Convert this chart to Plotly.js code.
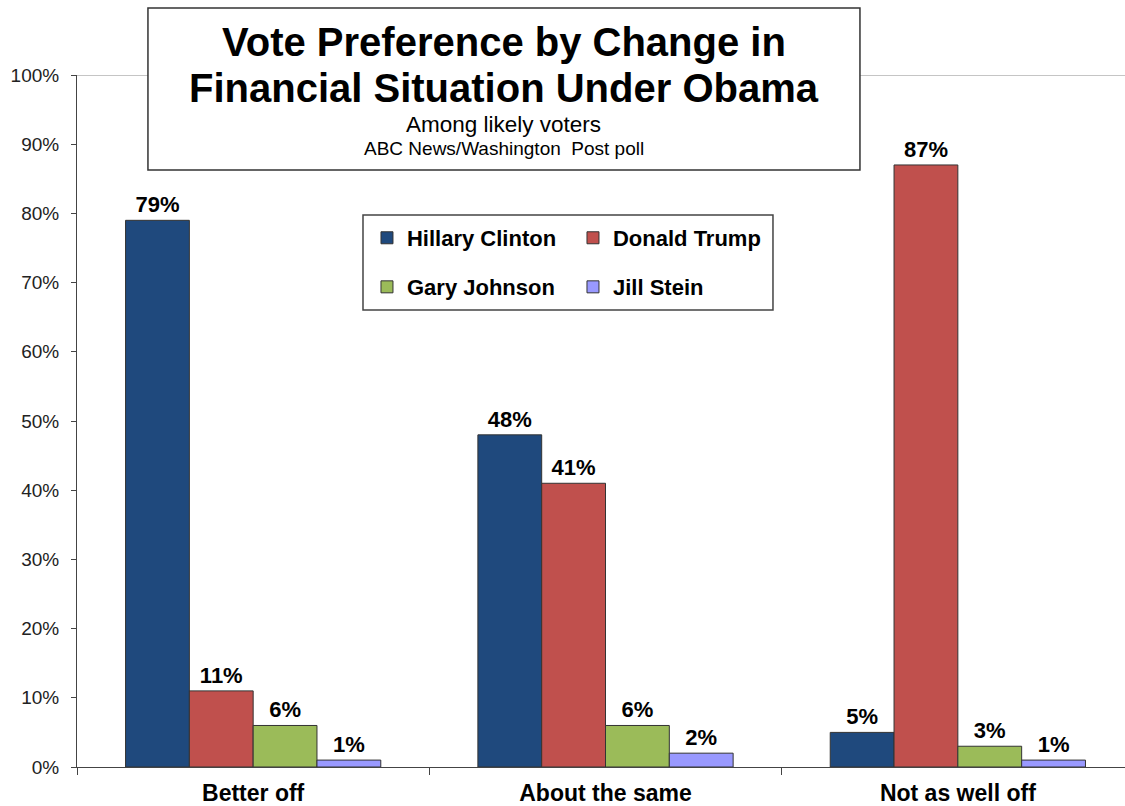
<!DOCTYPE html>
<html>
<head>
<meta charset="utf-8">
<script src="https://cdn.plot.ly/plotly-3.0.1.min.js"></script>
<style>html,body{margin:0;padding:0;background:#fff;}#chart{width:1125px;height:806px;}</style>
</head>
<body>
<div id="chart"></div>
<script>
const categories = ["Better off", "About the same", "Not as well off"];
const seriesNames = ["Hillary Clinton", "Donald Trump", "Gary Johnson", "Jill Stein"];
const clinton = [79, 48, 5];
const trump = [11, 41, 87];
const johnson = [6, 6, 3];
const stein = [1, 2, 1];
const yTicks = [0, 10, 20, 30, 40, 50, 60, 70, 80, 90, 100];
const titleLine1 = "Vote Preference by Change in";
const titleLine2 = "Financial Situation Under Obama";
const subtitle1 = "Among likely voters";
const subtitle2 = "ABC News/Washington  Post poll";

const colors = ["#1F497D", "#C0504D", "#9BBB59", "#9999FF"];
const seriesValues = [clinton, trump, johnson, stein];
const legendIds = ["legend", "legend", "legend2", "legend2"];
const FONT = "Arial, 'Liberation Sans', sans-serif";

const traces = seriesValues.map((vals, i) => ({
  type: "bar",
  name: seriesNames[i],
  x: categories,
  y: vals,
  legend: legendIds[i],
  marker: { color: colors[i], line: { color: "#333333", width: 1 } },
  text: vals.map(v => v + "%"),
  textposition: "outside",
  constraintext: "none",
  cliponaxis: false,
  textfont: { family: FONT, size: 22, color: "#000", weight: "bold" },
  hoverinfo: "x+y+name"
}));

const legendCommon = {
  orientation: "h",
  xanchor: "left",
  yanchor: "middle",
  x: 0.2767,
  bgcolor: "rgba(0,0,0,0)",
  borderwidth: 0,
  font: { family: FONT, size: 22, color: "#000", weight: "bold" },
  entrywidth: 161,
  entrywidthmode: "pixels",
  traceorder: "normal"
};

const layout = {
  width: 1125,
  height: 806,
  margin: { l: 77, r: 0, t: 75, b: 39, pad: 0 },
  paper_bgcolor: "#fff",
  plot_bgcolor: "#fff",
  barmode: "group",
  bargap: 0.2756,
  bargroupgap: 0,
  showlegend: true,
  legend: Object.assign({}, legendCommon, { y: 0.7645 }),
  legend2: Object.assign({}, legendCommon, { y: 0.6936 }),
  xaxis: {
    type: "category",
    range: [-0.5, 2.4744],
    showline: true,
    linecolor: "#444",
    linewidth: 1,
    ticks: "outside",
    tickson: "boundaries",
    ticklen: 7,
    tickcolor: "#444",
    showgrid: false,
    zeroline: false,
    ticklabelstandoff: 5,
    tickfont: { family: FONT, size: 23, color: "#000", weight: "bold" }
  },
  yaxis: {
    range: [0, 100],
    tickvals: yTicks,
    ticktext: yTicks.map(v => v + "%"),
    showline: true,
    linecolor: "#444",
    linewidth: 1,
    ticks: "outside",
    ticklen: 5,
    tickcolor: "#444",
    showgrid: false,
    zeroline: false,
    ticklabelstandoff: 8,
    tickfont: { family: FONT, size: 19, color: "#222" }
  },
  shapes: [
    { type: "line", xref: "paper", yref: "y", x0: 0, x1: 1, y0: 100, y1: 100,
      line: { color: "#8c8c8c", width: 1 }, layer: "below" },
    { type: "rect", xref: "paper", yref: "paper", x0: 0.0677, x1: 0.7471, y0: 0.8627, y1: 1.0968,
      fillcolor: "#fff", line: { color: "#333", width: 1.5 }, layer: "above" },
    { type: "rect", xref: "paper", yref: "paper", x0: 0.2729, x1: 0.6641, y0: 0.6604, y1: 0.7977,
      fillcolor: "rgba(255,255,255,0)", line: { color: "#444", width: 1.5 }, layer: "above" }
  ],
  annotations: [
    { text: titleLine1, xref: "paper", yref: "paper", x: 0.4074, y: (767 - 42) / 692,
      xanchor: "center", yanchor: "middle", showarrow: false,
      font: { family: FONT, size: 40, color: "#000", weight: "bold" } },
    { text: titleLine2, xref: "paper", yref: "paper", x: 0.4074, y: (767 - 88) / 692,
      xanchor: "center", yanchor: "middle", showarrow: false,
      font: { family: FONT, size: 40, color: "#000", weight: "bold" } },
    { text: subtitle1, xref: "paper", yref: "paper", x: 0.4074, y: (767 - 124) / 692,
      xanchor: "center", yanchor: "middle", showarrow: false,
      font: { family: FONT, size: 22.5, color: "#000" } },
    { text: subtitle2, xref: "paper", yref: "paper", x: 0.4074, y: (767 - 148) / 692,
      xanchor: "center", yanchor: "middle", showarrow: false,
      font: { family: FONT, size: 19, color: "#000" } }
  ]
};

Plotly.newPlot("chart", traces, layout, { displayModeBar: false, staticPlot: true });
</script>
</body>
</html>
